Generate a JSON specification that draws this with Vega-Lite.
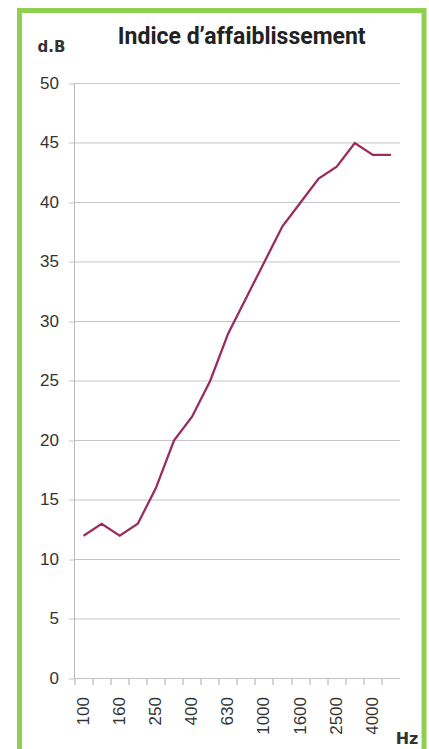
{
  "$schema": "https://vega.github.io/schema/vega-lite/v6.json",
  "width": 404.5,
  "height": 745,
  "autosize": {"type": "none"},
  "padding": {"left": 19.5, "top": 10.5, "right": 5, "bottom": 0},
  "background": "white",
  "title": {
    "text": "Indice d’affaiblissement",
    "anchor": "middle",
    "dx": 20,
    "offset": -56,
    "baseline": "alphabetic",
    "font": "Roboto",
    "fontSize": 23,
    "fontWeight": "bold",
    "color": "#222222"
  },
  "config": {
    "view": {"stroke": "#8fd14f", "strokeWidth": 5},
    "axis": {"labelFont": "Liberation Sans", "titleFont": "DejaVu Sans"}
  },
  "datasets": {
    "main": [
      {"freq": 100, "db": 12},
      {"freq": 125, "db": 13},
      {"freq": 160, "db": 12},
      {"freq": 200, "db": 13},
      {"freq": 250, "db": 16},
      {"freq": 315, "db": 20},
      {"freq": 400, "db": 22},
      {"freq": 500, "db": 25},
      {"freq": 630, "db": 29},
      {"freq": 800, "db": 32},
      {"freq": 1000, "db": 35},
      {"freq": 1250, "db": 38},
      {"freq": 1600, "db": 40},
      {"freq": 2000, "db": 42},
      {"freq": 2500, "db": 43},
      {"freq": 3150, "db": 45},
      {"freq": 4000, "db": 44},
      {"freq": 5000, "db": 44}
    ],
    "grid": [
      {"g": 0}, {"g": 5}, {"g": 10}, {"g": 15}, {"g": 20}, {"g": 25},
      {"g": 30}, {"g": 35}, {"g": 40}, {"g": 45}, {"g": 50}
    ]
  },
  "resolve": {"axis": {"x": "independent", "y": "independent"}},
  "layer": [
    {
      "data": {"name": "grid"},
      "mark": {"type": "rule", "color": "#c4c4c4", "strokeWidth": 1},
      "encoding": {
        "x": {
          "datum": 100,
          "type": "ordinal",
          "bandPosition": 0,
          "scale": {"type": "band", "paddingInner": 0, "paddingOuter": 0, "range": [55, 380.5]},
          "axis": {
            "orient": "bottom",
            "values": [100, 125, 160, 200, 250, 315, 400, 500, 630, 800, 1000, 1250, 1600, 2000, 2500, 3150, 4000, 5000],
            "bandPosition": 0,
            "labels": false,
            "domain": false,
            "grid": false,
            "ticks": true,
            "tickSize": 6,
            "tickColor": "#aaaaaa",
            "offset": -77,
            "title": null
          }
        },
        "x2": {"datum": 5000, "bandPosition": 1},
        "y": {
          "field": "g",
          "type": "quantitative",
          "scale": {"domain": [-6.47, 56.13], "nice": false, "zero": false},
          "axis": null
        }
      }
    },
    {
      "data": {"name": "grid"},
      "transform": [{"filter": "datum.g === 0"}],
      "mark": {"type": "rule", "color": "#b8b8b8", "strokeWidth": 1},
      "encoding": {
        "x": {"datum": 100, "type": "ordinal", "bandPosition": 0, "axis": null},
        "y": {"datum": 0, "type": "quantitative", "axis": null},
        "y2": {"datum": 50}
      }
    },
    {
      "data": {"name": "main"},
      "mark": {"type": "line", "color": "#9a2c5e", "strokeWidth": 2.3},
      "encoding": {
        "x": {
          "field": "freq",
          "type": "ordinal",
          "axis": {
            "orient": "bottom",
            "values": [100, 160, 250, 400, 630, 1000, 1600, 2500, 4000],
            "labelAngle": -90,
            "labelFontSize": 17,
            "labelColor": "#333333",
            "labelPadding": 18,
            "ticks": false,
            "domain": false,
            "grid": false,
            "offset": -77,
            "title": "Hz",
            "titleX": 387,
            "titleY": 60,
            "titleAlign": "center",
            "titleBaseline": "middle",
            "titleFontSize": 16,
            "titleFontWeight": "bold",
            "titleColor": "#333333"
          }
        },
        "y": {
          "field": "db",
          "type": "quantitative",
          "axis": {
            "orient": "left",
            "values": [0, 5, 10, 15, 20, 25, 30, 35, 40, 45, 50],
            "domain": false,
            "grid": false,
            "ticks": true,
            "tickSize": 6,
            "tickColor": "#c4c4c4",
            "labelFontSize": 17,
            "labelColor": "#333333",
            "labelPadding": 10,
            "offset": -55,
            "title": "d.B",
            "titleAngle": 0,
            "titleX": -23.5,
            "titleY": 36,
            "titleAlign": "center",
            "titleBaseline": "middle",
            "titleFontSize": 15,
            "titleFontWeight": "bold",
            "titleColor": "#333333"
          }
        }
      }
    }
  ]
}
